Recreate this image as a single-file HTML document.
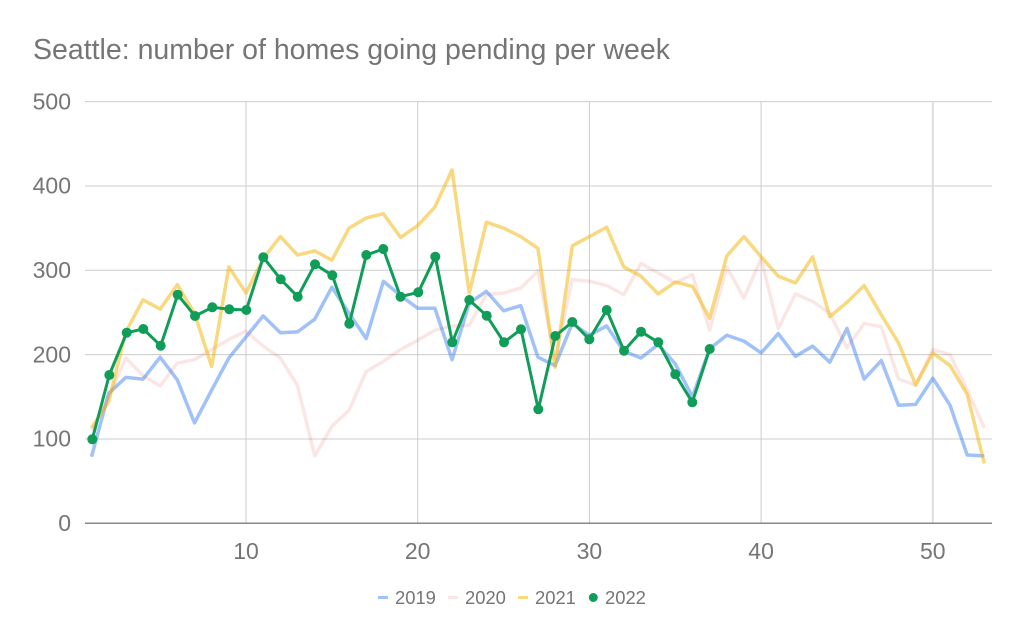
<!DOCTYPE html>
<html><head><meta charset="utf-8"><style>
html,body{margin:0;padding:0;background:#fff;}
svg{display:block;}
text{font-family:"Liberation Sans",Arial,sans-serif;fill:#757575;}
</style></head><body>
<svg width="1024" height="641" viewBox="0 0 1024 641" xmlns="http://www.w3.org/2000/svg">
<rect width="1024" height="641" fill="#fff"/>
<text x="33" y="59" font-size="28.5" textLength="637" lengthAdjust="spacingAndGlyphs">Seattle: number of homes going pending per week</text>
<g stroke="#cccccc" stroke-width="1">
<line x1="85" y1="101.6" x2="992" y2="101.6"/>
<line x1="85" y1="186.0" x2="992" y2="186.0"/>
<line x1="85" y1="270.3" x2="992" y2="270.3"/>
<line x1="85" y1="354.6" x2="992" y2="354.6"/>
<line x1="85" y1="439.0" x2="992" y2="439.0"/>
<line x1="246.0" y1="101.6" x2="246.0" y2="523"/>
<line x1="417.7" y1="101.6" x2="417.7" y2="523"/>
<line x1="589.4" y1="101.6" x2="589.4" y2="523"/>
<line x1="761.1" y1="101.6" x2="761.1" y2="523"/>
<line x1="932.8" y1="101.6" x2="932.8" y2="523" stroke="#dddddd" stroke-width="2"/>
</g>
<line x1="85" y1="523.3" x2="992" y2="523.3" stroke="#888" stroke-width="1.5"/>
<g font-size="23" text-anchor="end">
<text x="71" y="109.3">500</text>
<text x="71" y="193.6">400</text>
<text x="71" y="278">300</text>
<text x="71" y="362.3">200</text>
<text x="71" y="446.7">100</text>
<text x="71" y="531">0</text>
</g>
<g font-size="23" text-anchor="middle">
<text x="246" y="559">10</text>
<text x="417.7" y="559">20</text>
<text x="589.4" y="559">30</text>
<text x="761.1" y="559">40</text>
<text x="932.8" y="559">50</text>
</g>
<g transform="matrix(17.17 0 0 -0.8434 74.33 523.3)" fill="none" stroke-linejoin="round">
<polyline vector-effect="non-scaling-stroke" stroke="#4285f4" stroke-opacity="0.5" stroke-width="3.5" points="1,79 2,154 3,173 4,171 5,197 6,170 7,119 8,158 9,196 10,221 11,246 12,226 13,227 14,242 15,280 16,249 17,219 18,287 19,270 20,255 21,255 22,194 23,261 24,275 25,252 26,258 27,197 28,187 29,237 30,223 31,234 32,204 33,196 34,212 35,189 36,150 37,207 38,223 39,216 40,202 41,225 42,198 43,210 44,191 45,231 46,171 47,193 48,140 49,141 50,172 51,140 52,81 53,80"/>
<polyline vector-effect="non-scaling-stroke" stroke="#db4437" stroke-opacity="0.13" stroke-width="3.5" points="1,110 2,150 3,196 4,175 5,163 6,190 7,194 8,206 9,218 10,228 11,210 12,196 13,163 14,80 15,115 16,134 17,180 18,192 19,206 20,217 21,229 22,234 23,235 24,271 25,273 26,279 27,299 28,195 29,289 30,287 31,282 32,271 33,308 34,297 35,285 36,295 37,229 38,304 39,267 40,314 41,231 42,272 43,263 44,249 45,208 46,237 47,233 48,171 49,164 50,206 51,200 52,158 53,113"/>
<polyline vector-effect="non-scaling-stroke" stroke="#f4b400" stroke-opacity="0.5" stroke-width="3.5" points="1,113 2,144 3,227 4,265 5,254 6,283 7,249 8,186 9,304 10,273 11,314 12,340 13,318 14,323 15,312 16,350 17,362 18,367 19,339 20,353 21,375 22,419 23,273 24,357 25,350 26,340 27,326 28,185 29,329 30,340 31,351 32,304 33,293 34,272 35,286 36,281 37,243 38,317 39,340 40,316 41,293 42,285 43,316 44,245 45,262 46,282 47,247 48,214 49,164 50,202 51,187 52,153 53,71"/>
</g>
<g fill="#0f9d58">
<polyline fill="none" stroke="#0f9d58" stroke-width="3" stroke-linejoin="round" points="92.3,439.3 109.3,375 126.7,332.7 143.3,329 160.7,345.7 177.7,294.7 195,316 212.3,307.3 229.3,309.3 246.3,310 263.3,257.3 280.7,279.3 297.7,296.7 315,264.3 332.3,275.3 349.3,323.7 366.3,255 383.3,249 400.5,296.7 418.3,292.3 435.3,256.7 452.3,342.3 469.3,300 486.7,315.7 504,342.3 521,329.3 538.3,409.3 555.3,336 572.3,322 589.3,339.3 606.7,310 624,350.7 641,331.7 658.3,342.3 675.3,374.3 692.3,402.3 709.7,349"/>
<circle cx="92.3" cy="439.3" r="5"/><circle cx="109.3" cy="375" r="5"/><circle cx="126.7" cy="332.7" r="5"/><circle cx="143.3" cy="329" r="5"/><circle cx="160.7" cy="345.7" r="5"/><circle cx="177.7" cy="294.7" r="5"/><circle cx="195" cy="316" r="5"/><circle cx="212.3" cy="307.3" r="5"/><circle cx="229.3" cy="309.3" r="5"/><circle cx="246.3" cy="310" r="5"/><circle cx="263.3" cy="257.3" r="5"/><circle cx="280.7" cy="279.3" r="5"/><circle cx="297.7" cy="296.7" r="5"/><circle cx="315" cy="264.3" r="5"/><circle cx="332.3" cy="275.3" r="5"/><circle cx="349.3" cy="323.7" r="5"/><circle cx="366.3" cy="255" r="5"/><circle cx="383.3" cy="249" r="5"/><circle cx="400.5" cy="296.7" r="5"/><circle cx="418.3" cy="292.3" r="5"/><circle cx="435.3" cy="256.7" r="5"/><circle cx="452.3" cy="342.3" r="5"/><circle cx="469.3" cy="300" r="5"/><circle cx="486.7" cy="315.7" r="5"/><circle cx="504" cy="342.3" r="5"/><circle cx="521" cy="329.3" r="5"/><circle cx="538.3" cy="409.3" r="5"/><circle cx="555.3" cy="336" r="5"/><circle cx="572.3" cy="322" r="5"/><circle cx="589.3" cy="339.3" r="5"/><circle cx="606.7" cy="310" r="5"/><circle cx="624" cy="350.7" r="5"/><circle cx="641" cy="331.7" r="5"/><circle cx="658.3" cy="342.3" r="5"/><circle cx="675.3" cy="374.3" r="5"/><circle cx="692.3" cy="402.3" r="5"/><circle cx="709.7" cy="349" r="5"/>
</g>
<g font-size="18.4">
<line x1="378" y1="597.5" x2="388" y2="597.5" stroke="#a0c2fa" stroke-width="3"/>
<text x="395" y="604">2019</text>
<line x1="448" y1="597.5" x2="458" y2="597.5" stroke="#fae6e4" stroke-width="3"/>
<text x="465" y="604">2020</text>
<line x1="518" y1="597.5" x2="528" y2="597.5" stroke="#fad980" stroke-width="3"/>
<text x="535" y="604">2021</text>
<circle cx="593.3" cy="597.5" r="4.5" fill="#0f9d58"/>
<text x="605" y="604">2022</text>
</g>
</svg>
</body></html>
